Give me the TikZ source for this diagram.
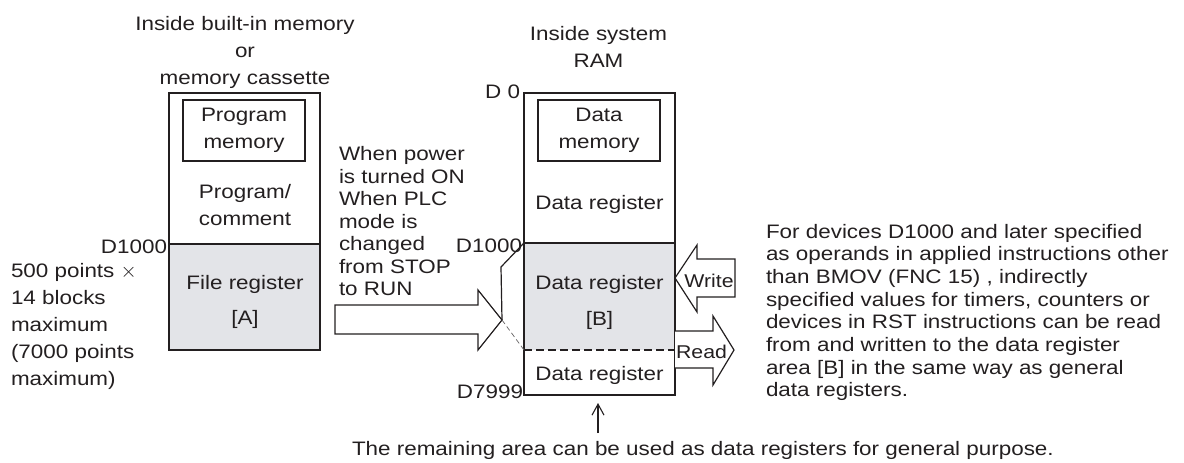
\documentclass[tikz,border=0pt]{standalone}
\usepackage{fontspec}
\setmainfont{Liberation Sans}[FakeStretch=1.15]
\usetikzlibrary{arrows.meta}
\definecolor{ink}{HTML}{231F20}
\definecolor{shade}{HTML}{E3E4E8}
\begin{document}
\begin{tikzpicture}[x=1pt,y=-1pt,
  every node/.style={inner sep=0pt, outer sep=0pt, text=ink},
  txt/.style={font=\fontsize{19.5}{27}\selectfont},
  box/.style={draw=ink, line width=1.4pt},
  fat/.style={draw=ink, line width=1.2pt, line join=miter, fill=white},
  slant/.style={draw=ink, line width=1.2pt},
  ghost/.style={draw=ink!70, line width=0.7pt, dash pattern=on 5pt off 3pt}]
\useasboundingbox (0,0) rectangle (1184,463);

% ---------- left memory ----------
\node[txt, align=center] (ttlL) at (245,52) {Inside built-in memory\\or\\memory cassette};
\node[box, fill=shade, minimum width=151pt, minimum height=106pt, anchor=north west] (fileA) at (169,244) {};
\node[box, minimum width=151pt, minimum height=151pt, anchor=north west] (prog) at (169,93) {};
\node[box, txt, align=center, minimum width=122pt, minimum height=61pt, anchor=north west] (pm) at (183,100) {Program\\memory};
\node[txt, align=center] (pc) at (245,205.5) {Program/\\comment};
\node[txt, align=center, font=\fontsize{19.5}{35}\selectfont] (fr) at (245,301.5) {File register\\{}[A]};
\node[txt, anchor=base east] (dL) at (167,253) {D1000};
\node[txt, align=left, anchor=west] (pts) at (11,326) {500 points $\times$\\14 blocks\\maximum\\(7000 points\\maximum)};

% ---------- transfer arrow ----------
\node[txt, align=left, anchor=west, font=\fontsize{19.5}{22.5}\selectfont] (when) at (339,221.5) {When power\\is turned ON\\When PLC\\mode is\\changed\\from STOP\\to RUN};
\coordinate (b1) at (335,305);
\coordinate (b2) at (478,305);
\coordinate (b3) at (478,290);
\coordinate (btip) at (502,320);
\coordinate (b4) at (478,350);
\coordinate (b5) at (478,334);
\coordinate (b6) at (335,334);
\draw[fat] (b1) -- (b2) -- (b3) -- (btip) -- (b4) -- (b5) -- (b6) -- cycle;

% ---------- right RAM ----------
\node[txt, align=center] (ttlR) at (598.5,46.5) {Inside system\\RAM};
\node[fill=shade, minimum width=151pt, minimum height=107pt, anchor=north west] (areaB) at (524,243) {};
\node[box, minimum width=151pt, minimum height=302pt, anchor=north west] (ram) at (524,93) {};
\draw[box] (areaB.north west) -- (areaB.north east);
\draw[box, dash pattern=on 8pt off 4pt] (areaB.south west) -- (areaB.south east);
\node[box, txt, align=center, minimum width=122pt, minimum height=61pt, anchor=north west] (dm) at (538,100) {Data\\memory};
\node[txt, anchor=base] (dr1) at (599.5,209) {Data register};
\node[txt, align=center, font=\fontsize{19.5}{36}\selectfont] (dr2) at (599.5,302) {Data register\\{}[B]};
\node[txt, anchor=base] (dr3) at (599.5,380) {Data register};
\node[txt, anchor=base east] (d0) at (520,98) {D 0};
\node[txt, anchor=base east] (dR) at (522,252) {D1000};
\node[txt, anchor=base east] (d7) at (523,398) {D7999};

% slanted guide
\coordinate (s1) at (501,267);
\draw[slant] (areaB.north west) -- (s1) -- (btip);
\draw[ghost] (btip) -- (areaB.south west);

% ---------- write / read ----------
\coordinate (wtip) at (675,278);
\draw[fat] (wtip) -- (697,245) -- (697,259) -- (735,259) -- (735,297) -- (697,297) -- (697,312) -- cycle;
\node[txt, anchor=base, font=\fontsize{18.5}{20}\selectfont] (wr) at (709,287) {Write};
\coordinate (r0) at (675,331);
\coordinate (r6) at (675,368);
\draw[fat] (r0) -- (713,331) -- (713,316) -- (734,350) -- (713,385) -- (713,368) -- (r6);
\node[txt, anchor=base, font=\fontsize{18.5}{20}\selectfont] (rd) at (701.5,358) {Read};

% ---------- right paragraph ----------
\node[txt, align=left, anchor=west, font=\fontsize{19.5}{22.7}\selectfont] (para) at (766,312.5) {For devices D1000 and later specified\\as operands in applied instructions other\\than BMOV (FNC 15) , indirectly\\specified values for timers, counters or\\devices in RST instructions can be read\\from and written to the data register\\area [B] in the same way as general\\data registers.};

% ---------- bottom note ----------
\node[txt, anchor=base west] (note) at (352,455) {The remaining area can be used as data registers for general purpose.};
\coordinate (ua) at (598,433);
\coordinate (ub) at (598,403);
\draw[draw=ink, line width=1.1pt, -{Straight Barb[length=11pt,width=12pt]}] (ua) -- (ub);
\end{tikzpicture}
\end{document}
